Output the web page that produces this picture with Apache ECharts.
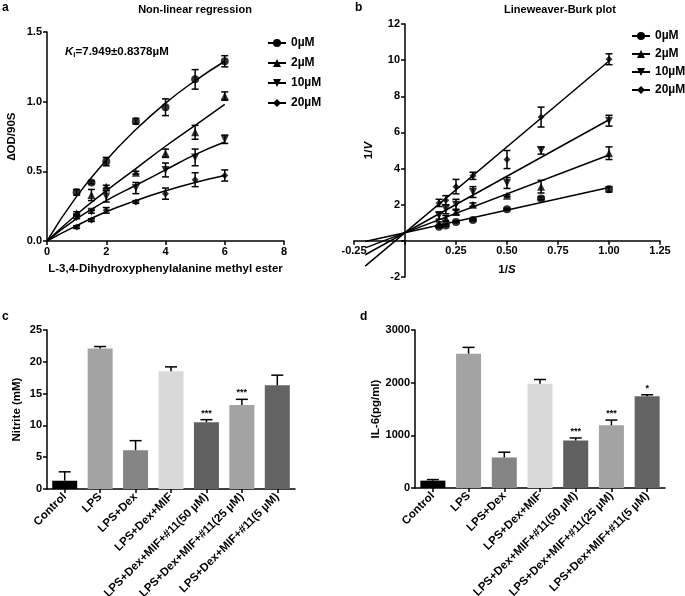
<!DOCTYPE html>
<html>
<head>
<meta charset="utf-8">
<script src="https://cdn.jsdelivr.net/npm/echarts@6/dist/echarts.min.js"></script>
<style>
html,body{margin:0;padding:0;background:#fff;}
#c{width:685px;height:596px;}
</style>
</head>
<body>
<div id="c"></div>
<script>
// ---------- Panel a: non-linear regression ----------
const concNames = ['0µM', '2µM', '10µM', '20µM'];
const substrate = [1, 1.5, 2, 3, 4, 5, 6];
const od0 = [0.35, 0.42, 0.57, 0.86, 0.96, 1.16, 1.29];
const od0Err = [0.02, 0.01, 0.03, 0.02, 0.06, 0.07, 0.04];
const od2 = [0.20, 0.33, 0.39, 0.49, 0.63, 0.78, 1.04];
const od2Err = [0.01, 0.04, 0.01, 0.01, 0.03, 0.05, 0.03];
const od10 = [0.17, 0.21, 0.32, 0.38, 0.51, 0.60, 0.73];
const od10Err = [0.01, 0.01, 0.04, 0.04, 0.05, 0.06, 0.03];
const od20 = [0.10, 0.15, 0.22, 0.28, 0.34, 0.44, 0.47];
const od20Err = [0.01, 0.01, 0.02, 0.01, 0.04, 0.05, 0.04];
const fitX = [0, 1, 2, 3, 4, 5, 6];
const fit0 = [0, 0.32, 0.58, 0.80, 0.99, 1.15, 1.29];
const fit2 = [0, 0.19, 0.36, 0.52, 0.68, 0.83, 0.98];
const fit10 = [0, 0.16, 0.29, 0.40, 0.51, 0.62, 0.71];
const fit20 = [0, 0.11, 0.21, 0.29, 0.36, 0.42, 0.47];

// ---------- Panel b: Lineweaver-Burk ----------
const invS = [1, 0.667, 0.5, 0.333, 0.25, 0.2, 0.167];
const lb0 = [2.85, 2.35, 1.75, 1.15, 1.05, 0.85, 0.78];
const lb0Err = [0.15, 0.08, 0.05, 0.05, 0.05, 0.05, 0.05];
const lb2 = [4.85, 3.0, 2.5, 2.0, 1.6, 1.25, 0.95];
const lb2Err = [0.35, 0.35, 0.05, 0.1, 0.15, 0.15, 0.1];
const lb10 = [6.65, 5.0, 3.2, 2.7, 2.0, 1.75, 1.4];
const lb10Err = [0.3, 0.2, 0.3, 0.3, 0.3, 0.25, 0.2];
const lb20 = [10.05, 6.85, 4.5, 3.6, 3.0, 2.25, 2.1];
const lb20Err = [0.3, 0.55, 0.5, 0.2, 0.4, 0.25, 0.2];
const lbLineX = [-0.195, 1.0];
const lbLine0 = [-0.04, 2.95];
const lbLine2 = [-0.39, 4.75];
const lbLine10 = [-0.77, 6.7];
const lbLine20 = [-1.40, 9.95];

// ---------- Panels c, d: bars ----------
const groups = ['Control', 'LPS', 'LPS+Dex', 'LPS+Dex+MIF',
  'LPS+Dex+MIF+#11(50 µM)', 'LPS+Dex+MIF+#11(25 µM)', 'LPS+Dex+MIF+#11(5 µM)'];
const barColors = ['#000000', '#a3a3a3', '#858585', '#d9d9d9', '#606060', '#a3a3a3', '#636363'];
const nitrite = [1.3, 22.1, 6.1, 18.5, 10.5, 13.2, 16.3];
const nitriteErr = [1.4, 0.3, 1.5, 0.7, 0.4, 0.9, 1.6];
const nitriteStars = ['', '', '', '', '***', '***', ''];
const il6 = [140, 2550, 580, 1980, 900, 1190, 1740];
const il6Err = [20, 120, 100, 80, 50, 100, 30];
const il6Stars = ['', '', '', '', '***', '***', '*'];

const FONT = 'Liberation Sans, Arial, sans-serif';
const symbols = ['circle', 'triangle', 'triangle', 'diamond'];
const symRot = [0, 0, 180, 0];
const symSizes = [8, 8, 8, 7];

function axisBase(extra) {
  const base = {
    axisLine: {show: true, onZero: false, lineStyle: {color: '#000', width: 1.5}},
    axisTick: {show: true, length: 4, lineStyle: {color: '#000', width: 1.5}},
    axisLabel: {color: '#000', fontWeight: 'bold', fontSize: 11, fontFamily: FONT, margin: 5},
    splitLine: {show: false},
    nameTextStyle: {color: '#000', fontWeight: 'bold', fontSize: 11.5, fontFamily: FONT}
  };
  return Object.assign(base, extra);
}

function errRender(capHalf, upOnly, stars) {
  return function (params, api) {
    const x = api.value(0), y = api.value(1), e = api.value(2);
    const hi = api.coord([x, y + e]);
    const lo = api.coord([x, upOnly ? y : y - e]);
    const st = {stroke: '#000', lineWidth: 1.5};
    const ch = [
      {type: 'line', shape: {x1: hi[0], y1: hi[1], x2: lo[0], y2: lo[1]}, style: st},
      {type: 'line', shape: {x1: hi[0] - capHalf, y1: hi[1], x2: hi[0] + capHalf, y2: hi[1]}, style: st}
    ];
    if (!upOnly) {
      ch.push({type: 'line', shape: {x1: lo[0] - capHalf, y1: lo[1], x2: lo[0] + capHalf, y2: lo[1]}, style: st});
    }
    if (stars && stars[params.dataIndex]) {
      ch.push({type: 'text', x: hi[0], y: hi[1] - 2, style: {
        text: stars[params.dataIndex], fill: '#000', font: 'bold 9px ' + FONT,
        textAlign: 'center', textVerticalAlign: 'bottom'}});
    }
    return {type: 'group', children: ch};
  };
}

const series = [];
[fit0, fit2, fit10, fit20].forEach((f, i) => {
  series.push({
    type: 'line', name: concNames[i], xAxisIndex: 0, yAxisIndex: 0,
    data: fitX.map((x, k) => [x, f[k]]), smooth: true, showSymbol: false,
    symbol: symbols[i], symbolRotate: symRot[i], symbolSize: symSizes[i],
    lineStyle: {color: '#000', width: 1.5}, itemStyle: {color: '#000'}, z: 2
  });
});
[[od0, od0Err], [od2, od2Err], [od10, od10Err], [od20, od20Err]].forEach((p, i) => {
  series.push({
    type: 'scatter', xAxisIndex: 0, yAxisIndex: 0,
    data: substrate.map((x, k) => [x, p[0][k]]),
    symbol: symbols[i], symbolRotate: symRot[i], symbolSize: symSizes[i],
    itemStyle: {color: '#000'}, z: 4
  });
  series.push({
    type: 'custom', xAxisIndex: 0, yAxisIndex: 0,
    data: substrate.map((x, k) => [x, p[0][k], p[1][k]]),
    renderItem: errRender(3.5, false), z: 3
  });
});
[lbLine0, lbLine2, lbLine10, lbLine20].forEach((l, i) => {
  series.push({
    type: 'line', name: concNames[i], xAxisIndex: 1, yAxisIndex: 1,
    data: lbLineX.map((x, k) => [x, l[k]]), showSymbol: false,
    symbol: symbols[i], symbolRotate: symRot[i], symbolSize: symSizes[i],
    lineStyle: {color: '#000', width: 1.5}, itemStyle: {color: '#000'}, z: 2
  });
});
[[lb0, lb0Err], [lb2, lb2Err], [lb10, lb10Err], [lb20, lb20Err]].forEach((p, i) => {
  series.push({
    type: 'scatter', xAxisIndex: 1, yAxisIndex: 1,
    data: invS.map((x, k) => [x, p[0][k]]),
    symbol: symbols[i], symbolRotate: symRot[i], symbolSize: symSizes[i],
    itemStyle: {color: '#000'}, z: 4
  });
  series.push({
    type: 'custom', xAxisIndex: 1, yAxisIndex: 1,
    data: invS.map((x, k) => [x, p[0][k], p[1][k]]),
    renderItem: errRender(3.5, false), z: 3
  });
});
series.push({
  type: 'bar', xAxisIndex: 2, yAxisIndex: 2, barWidth: 25,
  data: nitrite.map((v, k) => ({value: v, itemStyle: {color: barColors[k]}})), z: 2
});
series.push({
  type: 'custom', xAxisIndex: 2, yAxisIndex: 2,
  data: nitrite.map((v, k) => [k, v, nitriteErr[k]]),
  renderItem: errRender(6, true, nitriteStars), z: 3
});
series.push({
  type: 'bar', xAxisIndex: 3, yAxisIndex: 3, barWidth: 25,
  data: il6.map((v, k) => ({value: v, itemStyle: {color: barColors[k]}})), z: 2
});
series.push({
  type: 'custom', xAxisIndex: 3, yAxisIndex: 3,
  data: il6.map((v, k) => [k, v, il6Err[k]]),
  renderItem: errRender(6, true, il6Stars), z: 3
});

const legendText = {color: '#000', fontWeight: 'bold', fontSize: 12, fontFamily: FONT};
const catLabel = {color: '#000', fontWeight: 'bold', fontSize: 11.5, fontFamily: FONT, rotate: 45, margin: 6, interval: 0};

// grid b geometry (used to place the axes through the origin)
const gbLeft = 354, gbTop = 24, gbW = 306, gbH = 253;
const xMinB = -0.25, xMaxB = 1.25, yMinB = -2, yMaxB = 12;
const xOffB = -gbH * (0 - yMinB) / (yMaxB - yMinB);
const yOffB = -gbW * (0 - xMinB) / (xMaxB - xMinB);

const option = {
  animation: false,
  backgroundColor: '#fff',
  grid: [
    {left: 47, top: 32, width: 237, height: 209, outerBoundsMode: 'none', containLabel: false},
    {left: gbLeft, top: gbTop, width: gbW, height: gbH, outerBoundsMode: 'none', containLabel: false},
    {left: 47, top: 330, width: 248, height: 159, outerBoundsMode: 'none', containLabel: false},
    {left: 415, top: 330, width: 250, height: 158, outerBoundsMode: 'none', containLabel: false}
  ],
  legend: [
    {orient: 'vertical', left: 262, top: 32, itemWidth: 18, itemHeight: 10, itemGap: 8,
     data: concNames, textStyle: legendText, selectedMode: false},
    {orient: 'vertical', left: 626, top: 25, itemWidth: 18, itemHeight: 10, itemGap: 6,
     data: concNames, textStyle: legendText, selectedMode: false}
  ],
  xAxis: [
    axisBase({gridIndex: 0, type: 'value', min: 0, max: 8, interval: 2,
      name: 'L-3,4-Dihydroxyphenylalanine methyl ester', nameLocation: 'middle', nameGap: 22}),
    axisBase({gridIndex: 1, type: 'value', min: xMinB, max: xMaxB, interval: 0.25,
      position: 'bottom', offset: xOffB,
      name: '1/{i|S}', nameLocation: 'middle', nameGap: 23,
      nameTextStyle: {color: '#000', fontWeight: 'bold', fontSize: 11.5, fontFamily: FONT,
        rich: {i: {fontStyle: 'italic', fontWeight: 'bold', fontSize: 11.5, fontFamily: FONT, color: '#000'}}},
      axisLabel: {color: '#000', fontWeight: 'bold', fontSize: 11, fontFamily: FONT, margin: 5,
        formatter: v => (Math.abs(v) < 1e-9 ? '' : v.toFixed(2))}}),
    axisBase({gridIndex: 2, type: 'category', data: groups,
      axisTick: {show: true, alignWithLabel: true, length: 4, lineStyle: {color: '#000', width: 1.5}},
      axisLabel: catLabel}),
    axisBase({gridIndex: 3, type: 'category', data: groups,
      axisTick: {show: true, alignWithLabel: true, length: 4, lineStyle: {color: '#000', width: 1.5}},
      axisLabel: catLabel})
  ],
  yAxis: [
    axisBase({gridIndex: 0, type: 'value', min: 0, max: 1.5, interval: 0.5,
      name: '∆OD/90S', nameLocation: 'middle', nameGap: 29,
      axisLabel: {color: '#000', fontWeight: 'bold', fontSize: 11, fontFamily: FONT, margin: 5,
        formatter: v => v.toFixed(1)}}),
    axisBase({gridIndex: 1, type: 'value', min: yMinB, max: yMaxB, interval: 2,
      position: 'left', offset: yOffB,
      name: '1/{i|V}', nameLocation: 'middle', nameGap: 30,
      nameTextStyle: {color: '#000', fontWeight: 'bold', fontSize: 11.5, fontFamily: FONT,
        rich: {i: {fontStyle: 'italic', fontWeight: 'bold', fontSize: 11.5, fontFamily: FONT, color: '#000'}}},
      axisLabel: {color: '#000', fontWeight: 'bold', fontSize: 11, fontFamily: FONT, margin: 5,
        formatter: v => (v === 0 ? '' : String(v))}}),
    axisBase({gridIndex: 2, type: 'value', min: 0, max: 25, interval: 5,
      name: 'Nitrite (mM)', nameLocation: 'middle', nameGap: 24}),
    axisBase({gridIndex: 3, type: 'value', min: 0, max: 3000, interval: 1000,
      name: 'IL-6(pg/ml)', nameLocation: 'middle', nameGap: 33,
      axisLabel: {color: '#000', fontWeight: 'bold', fontSize: 11, fontFamily: FONT, margin: 5,
        formatter: v => String(v)}})
  ],
  graphic: [
    {type: 'text', x: 2, y: 2, style: {text: 'a', font: 'bold 12px ' + FONT, fill: '#000'}},
    {type: 'text', x: 355, y: 2, style: {text: 'b', font: 'bold 12px ' + FONT, fill: '#000'}},
    {type: 'text', x: 2, y: 311, style: {text: 'c', font: 'bold 12px ' + FONT, fill: '#000'}},
    {type: 'text', x: 360, y: 311, style: {text: 'd', font: 'bold 12px ' + FONT, fill: '#000'}},
    {type: 'text', x: 195, y: 4, style: {text: 'Non-linear regression', font: 'bold 11px ' + FONT, fill: '#000', textAlign: 'center'}},
    {type: 'text', x: 560, y: 4, style: {text: 'Lineweaver-Burk plot', font: 'bold 11px ' + FONT, fill: '#000', textAlign: 'center'}},
    {type: 'text', x: 65, y: 45, style: {
      text: '{k|K}{s|i}{t|=7.949±0.8378µM}', fill: '#000',
      rich: {
        k: {fontStyle: 'italic', fontWeight: 'bold', fontSize: 11.5, fontFamily: FONT, color: '#000'},
        s: {fontWeight: 'bold', fontSize: 8, fontFamily: FONT, verticalAlign: 'bottom', padding: [6, 0, 0, 0], color: '#000'},
        t: {fontWeight: 'bold', fontSize: 11.5, fontFamily: FONT, color: '#000'}
      }}}
  ],
  series: series
};

const chart = echarts.init(document.getElementById('c'), null, {renderer: 'canvas'});
chart.setOption(option);
</script>
</body>
</html>
